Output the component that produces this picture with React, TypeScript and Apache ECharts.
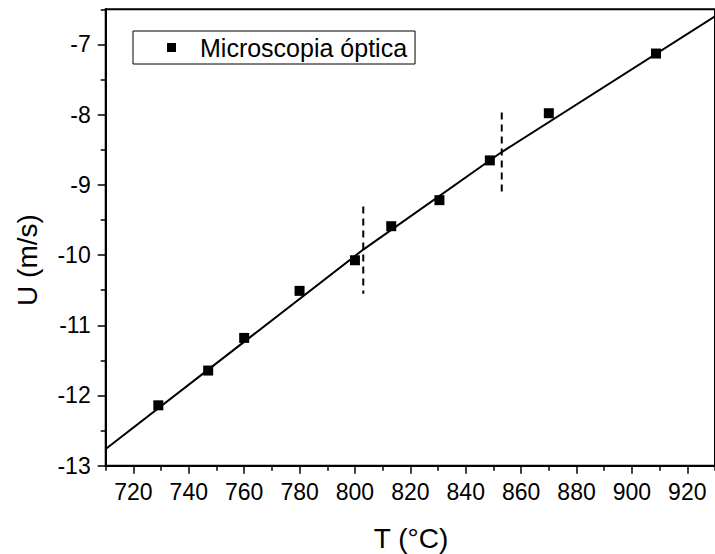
import React, { useEffect, useRef } from "react";
import * as echarts from "echarts";

const tempC = [729, 747, 760, 780, 800, 813.1, 830.5, 848.7, 870, 908.7];
const velocity = [-12.14, -11.645, -11.18, -10.51, -10.074, -9.589, -9.218, -8.652, -7.98, -7.13];
const fitX = [710, 803, 853, 930];
const fitY = [-12.762, -9.922, -8.533, -6.599];
const dash1X = [803, 803];
const dash1Y = [-9.31, -10.55];
const dash2X = [853, 853];
const dash2Y = [-7.97, -9.12];
const xMajorTicks = [720, 740, 760, 780, 800, 820, 840, 860, 880, 900, 920];
const xMinorTicks = [710, 730, 750, 770, 790, 810, 830, 850, 870, 890, 910, 930];
const yMajorTicks = [-13, -12, -11, -10, -9, -8, -7];
const yMinorTicks = [-12.5, -11.5, -10.5, -9.5, -8.5, -7.5, -6.5];
const seriesName = "Microscopia óptica";
const xTitle = "T (°C)";
const yTitle = "U (m/s)";

const FONT = "'Liberation Sans', Arial, Helvetica, sans-serif";

const zip = (xs: number[], ys: number[]) => xs.map((x, i) => [x, ys[i]]);

export default function App() {
  const ref = useRef<HTMLDivElement>(null);
  useEffect(() => {
    if (!ref.current) return;
    const chart = echarts.init(ref.current, undefined, { renderer: "svg" });
    const dashStyle = { color: "#000", width: 2, type: [7, 5] as any };
    const axisLine = { show: true, lineStyle: { color: "#000", width: 2 } };
    const labelStyle = { fontFamily: FONT, fontSize: 23, color: "#000", margin: 15 };
    chart.setOption({
      animation: false,
      backgroundColor: "#fff",
      grid: {
        left: 105.7,
        top: 9.3,
        right: -4,
        bottom: 88.3,
        show: true,
        borderColor: "#000",
        borderWidth: 2,
        backgroundColor: "transparent",
      },
      legend: {
        data: [{ name: seriesName, icon: "rect" }],
        left: 133,
        top: 31,
        itemWidth: 9,
        itemHeight: 9,
        padding: [4, 8, 4, 34],
        borderColor: "#000",
        borderWidth: 1,
        borderRadius: 0,
        textStyle: {
          fontFamily: FONT,
          fontSize: 25,
          color: "#000",
          padding: [0, 0, 0, 19],
        },
      },
      xAxis: [
        {
          type: "value",
          min: 710,
          max: 930,
          axisLine,
          axisTick: {
            show: true,
            inside: false,
            length: 8,
            customValues: xMajorTicks,
            lineStyle: { color: "#000", width: 1.5 },
          },
          splitLine: { show: false },
          axisLabel: { ...labelStyle, customValues: xMajorTicks },
        },
        {
          type: "value",
          position: "bottom",
          min: 710,
          max: 930,
          axisLine: { show: false },
          axisTick: {
            show: true,
            inside: false,
            length: 5,
            customValues: xMinorTicks,
            lineStyle: { color: "#000", width: 1.5 },
          },
          splitLine: { show: false },
          axisLabel: { show: false },
        },
      ],
      yAxis: [
        {
          type: "value",
          min: -13,
          max: -6.5,
          axisLine,
          axisTick: {
            show: true,
            inside: false,
            length: 8,
            customValues: yMajorTicks,
            lineStyle: { color: "#000", width: 1.5 },
          },
          splitLine: { show: false },
          axisLabel: { ...labelStyle, customValues: yMajorTicks },
        },
        {
          type: "value",
          position: "left",
          min: -13,
          max: -6.5,
          axisLine: { show: false },
          axisTick: {
            show: true,
            inside: false,
            length: 5,
            customValues: yMinorTicks,
            lineStyle: { color: "#000", width: 1.5 },
          },
          splitLine: { show: false },
          axisLabel: { show: false },
        },
      ],
      graphic: [
        {
          type: "text",
          x: 411,
          y: 538,
          style: {
            text: xTitle,
            fontFamily: FONT,
            fontSize: 28,
            fill: "#000",
            align: "center",
            verticalAlign: "middle",
          },
        },
        {
          type: "text",
          x: 27,
          y: 260,
          rotation: Math.PI / 2,
          style: {
            text: yTitle,
            fontFamily: FONT,
            fontSize: 28,
            fill: "#000",
            align: "center",
            verticalAlign: "middle",
          },
        },
      ],
      series: [
        {
          type: "line",
          data: zip(fitX, fitY),
          symbol: "none",
          lineStyle: { color: "#000", width: 2 },
          z: 2,
          silent: true,
        },
        {
          type: "line",
          data: zip(dash1X, dash1Y),
          symbol: "none",
          lineStyle: dashStyle,
          silent: true,
        },
        {
          type: "line",
          data: zip(dash2X, dash2Y),
          symbol: "none",
          lineStyle: dashStyle,
          silent: true,
        },
        {
          name: seriesName,
          type: "scatter",
          symbol: "rect",
          symbolSize: 10,
          itemStyle: { color: "#000", opacity: 1 },
          data: zip(tempC, velocity),
          z: 3,
        },
      ],
    });
    return () => chart.dispose();
  }, []);
  return (
    <div
      ref={ref}
      style={{ position: "fixed", left: 0, top: 0, width: 715, height: 554, background: "#fff" }}
    />
  );
}
